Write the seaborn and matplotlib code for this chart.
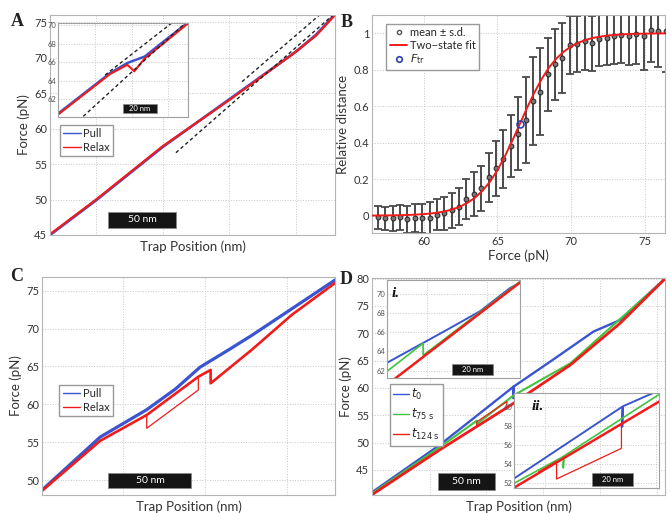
import numpy as np
import pandas as pd
import matplotlib
matplotlib.use("Agg")
import matplotlib.pyplot as plt
import matplotlib.transforms as mtransforms
from matplotlib.patches import Rectangle
from matplotlib.lines import Line2D
import seaborn as sns

# ==========================================
# DATA
# ==========================================

# --- A: pull / relax, trap position (nm) vs force (pN)
a_pull_x = [0, 34, 83, 132, 181, 196, 210]
a_pull_y = [45.0, 49.9, 57.4, 64.1, 70.8, 73.2, 76.1]
a_relax_x = [0, 34, 83, 132, 181, 196, 210]
a_relax_y = [45.1, 50.0, 57.5, 64.0, 70.8, 73.1, 76.0]
a_fold_x, a_fold_y = [141.5, 200.4], [66.6, 76.3]
a_unfold_x, a_unfold_y = [92.8, 208.5], [56.6, 76.0]

# A inset (zoom on the transition)
ai_pull_x = [0, 15, 30, 40, 50, 60, 75]
ai_pull_y = [60.4, 62.6, 64.8, 65.9, 66.6, 68.1, 70.3]
ai_relax_x = [0, 15, 30, 40, 44, 50, 60, 75]
ai_relax_y = [60.3, 62.5, 64.7, 65.7, 65.0, 66.4, 67.9, 70.2]
ai_fold_x, ai_fold_y = [27.2, 66.4], [64.6, 70.35]
ai_unfold_x, ai_unfold_y = [14.7, 74.1], [60.14, 70.35]

# --- B: relative distance vs force
b_force = [56.9, 57.4, 57.9, 58.4, 58.9, 59.4, 59.9, 60.4, 60.9, 61.4,
           61.9, 62.4, 62.9, 63.4, 63.9, 64.4, 64.9, 65.4, 65.9, 66.4,
           66.9, 67.4, 67.9, 68.4, 68.9, 69.4, 69.9, 70.4, 70.9, 71.4,
           71.9, 72.4, 72.9, 73.4, 73.9, 74.4, 74.9, 75.4, 75.9, 76.4]
b_mean = [-0.01, -0.015, -0.015, -0.01, -0.02, -0.015, -0.015, -0.015, 0.005, 0.013,
          0.03, 0.05, 0.09, 0.12, 0.15, 0.21, 0.26, 0.31, 0.38, 0.45,
          0.525, 0.63, 0.68, 0.775, 0.83, 0.865, 0.935, 0.94, 0.955, 0.945,
          0.97, 0.975, 0.985, 0.99, 0.985, 0.995, 0.985, 1.02, 1.015, 1.01]
b_sd = [0.062, 0.065, 0.068, 0.068, 0.075, 0.077, 0.08, 0.088, 0.085, 0.09,
        0.095, 0.1, 0.11, 0.12, 0.125, 0.135, 0.15, 0.16, 0.17, 0.2,
        0.235, 0.24, 0.24, 0.2, 0.195, 0.19, 0.16, 0.155, 0.155, 0.15,
        0.15, 0.15, 0.155, 0.155, 0.16, 0.165, 0.185, 0.18, 0.2, 0.22]
b_fit_force = [56.5, 57, 57.5, 58, 58.5, 59, 59.5, 60, 60.5, 61, 61.5, 62, 62.5,
               63, 63.5, 64, 64.5, 65, 65.5, 66, 66.5, 67, 67.5, 68, 68.5, 69,
               69.5, 70, 70.5, 71, 71.5, 72, 72.5, 73, 73.5, 74, 74.5, 75, 75.5,
               76, 76.5]
b_fit = [0.0007, 0.001, 0.0014, 0.002, 0.0028, 0.0041, 0.0059, 0.0085, 0.012,
         0.0175, 0.025, 0.036, 0.051, 0.072, 0.10, 0.138, 0.187, 0.25, 0.325,
         0.41, 0.5, 0.59, 0.675, 0.75, 0.813, 0.862, 0.90, 0.928, 0.949, 0.964,
         0.975, 0.982, 0.988, 0.991, 0.994, 0.996, 0.997, 0.998, 0.9986, 0.999,
         0.9993]
b_ftr_force, b_ftr = [66.5], [0.5]

# --- C: pull / relax with refolding steps
c_pull_x = [0, 35, 62.9, 80, 94.9, 112.9, 126, 150, 176]
c_pull_y = [48.7, 55.7, 59.3, 62.0, 64.9, 67.3, 69.1, 72.6, 76.4]
c_relax_x = [0, 35, 62.9, 93.9, 101.3, 101.3, 126, 150, 176]
c_relax_y = [48.6, 55.2, 58.6, 63.65, 64.54, 62.78, 67.2, 71.8, 76.0]
c_step_x = [62.9, 62.9, 93.9, 93.9]
c_step_y = [58.6, 56.85, 61.9, 63.65]

# --- D: three pulls at t0, t75s, t124s
d_t0_x = [0, 59, 122.6, 122.6, 122.9, 154.5, 192, 215, 254]
d_t0_y = [40.9, 49.6, 60.2, 58.1, 60.25, 64.8, 70.3, 72.4, 80.0]
d_t75_x = [0, 59, 90.9, 90.9, 122.6, 172, 254]
d_t75_y = [40.7, 49.2, 54.0, 53.4, 58.6, 64.5, 79.9]
d_t124_x = [0, 59, 120, 172, 215, 254]
d_t124_y = [40.45, 48.7, 56.8, 64.2, 71.8, 79.95]
d_t124_step_x = [90.9, 90.9, 116.9, 116.9]
d_t124_step_y = [52.9, 53.8, 57.5, 56.4]

# D inset i
di_t0_x = [0, 29.3, 45.5, 60, 65]
di_t0_y = [62.8, 66.25, 68.2, 70.6, 71.2]
di_t75_x = [0, 17.8, 17.8, 65]
di_t75_y = [61.9, 64.86, 63.6, 71.3]
di_t124_x = [0, 65]
di_t124_y = [60.5, 71.2]

# D inset ii
dii_t0_x = [0, 52.9, 52.9, 53.3, 65.5, 71]
dii_t0_y = [52.5, 60.0, 57.9, 60.05, 61.2, 61.7]
dii_t75_x = [0, 24.1, 24.1, 24.4, 71]
dii_t75_y = [52.0, 54.8, 53.6, 54.85, 61.3]
dii_t124_x = [0, 71]
dii_t124_y = [51.54, 60.55]
dii_step_x = [12, 20.8, 20.8, 52.5, 52.5]
dii_step_y = [53.2, 54.3, 52.45, 55.65, 58.2]

# ==========================================
# STYLE
# ==========================================
sns.set_theme(style="whitegrid", rc={
    "grid.linestyle": ":", "grid.color": "#c8c8c8", "grid.linewidth": 0.7,
    "axes.edgecolor": "#b5b5b5", "axes.linewidth": 0.8,
    "xtick.major.size": 0, "ytick.major.size": 0,
    "xtick.color": "#333333", "ytick.color": "#333333",
    "axes.labelcolor": "#333333",
})
plt.rcParams["font.family"] = ["Lato", "DejaVu Sans"]

BLUE = "#3a55cf"
RED = "#f01c1c"
GREEN = "#3fc43f"

W, H = 671, 513
fig = plt.figure(figsize=(W / 100, H / 100), dpi=100)


def px_axes(l, t, r, b):
    return fig.add_axes([l / W, 1 - b / H, (r - l) / W, (b - t) / H])


def line(ax, x, y, color, lw=1.2, **kw):
    sns.lineplot(x=x, y=y, ax=ax, color=color, lw=lw, estimator=None,
                 sort=False, legend=False, **kw)


def scale_bar(ax, x0, width, y0, y1, label, fs):
    trans = mtransforms.blended_transform_factory(ax.transData, ax.transAxes)
    ax.add_patch(Rectangle((x0, y0), width, y1 - y0, transform=trans,
                           facecolor="#151515", edgecolor="#888888", lw=0.5, zorder=6))
    ax.text(x0 + width / 2, (y0 + y1) / 2, label, transform=trans, color="white",
            ha="center", va="center", fontsize=fs, zorder=7)


def style_inset(ax, xlim, ylim, xticks, yticks):
    ax.set_xlim(*xlim)
    ax.set_ylim(*ylim)
    ax.set_xticks(xticks)
    ax.set_xticklabels([])
    ax.set_yticks(yticks)
    ax.tick_params(axis="y", labelsize=5.5, pad=1, colors="#555555")
    ax.set_xlabel("")
    ax.set_ylabel("")
    for s in ax.spines.values():
        s.set_color("#a0a0a0")


def panel_letter(x, y, s):
    fig.text(x / W, 1 - y / H, s, fontsize=13, fontweight="bold",
             family="Liberation Serif", color="#222222", va="baseline")


legend_kw = dict(loc="upper left", frameon=True, fancybox=False, edgecolor="#999999",
                 handletextpad=0.2, borderpad=0.3, framealpha=1)

# ==========================================
# A
# ==========================================
axA = px_axes(50, 15, 335, 235)
line(axA, a_pull_x, a_pull_y, BLUE, lw=2.0)
line(axA, a_relax_x, a_relax_y, RED, lw=1.6)
axA.plot(a_fold_x, a_fold_y, ls=(0, (2.5, 2)), color="#222222", lw=1)
axA.plot(a_unfold_x, a_unfold_y, ls=(0, (2.5, 2)), color="#222222", lw=1)
axA.set_xlim(0, 210)
axA.set_ylim(45, 76)
axA.set_xticks([34, 83, 132, 181])
axA.set_xticklabels([])
axA.set_yticks([45, 50, 55, 60, 65, 70, 75])
axA.tick_params(labelsize=8, pad=2)
axA.set_xlabel("Trap Position (nm)", fontsize=9.5, labelpad=2)
axA.set_ylabel("Force (pN)", fontsize=9.5, labelpad=3)
scale_bar(axA, 42.7, 50, 0.032, 0.105, "50 nm", 7.5)
axA.legend(handles=[Line2D([], [], color=BLUE, lw=1, label="Pull"),
                    Line2D([], [], color=RED, lw=1, label="Relax")],
           bbox_to_anchor=(0.015, 0.525), fontsize=8, handlelength=1.6,
           labelspacing=0.2, **legend_kw)

axAi = px_axes(57.7, 22.7, 188.3, 116.7)
axAi.set_facecolor("white")
line(axAi, ai_pull_x, ai_pull_y, BLUE, lw=1.8)
line(axAi, ai_relax_x, ai_relax_y, RED, lw=1.5)
axAi.plot(ai_fold_x, ai_fold_y, ls=(0, (2.5, 2)), color="#222222", lw=1)
axAi.plot(ai_unfold_x, ai_unfold_y, ls=(0, (2.5, 2)), color="#222222", lw=1)
style_inset(axAi, (0, 75), (60.1, 70.25), [21.4, 42.5, 63.5], [62, 64, 66, 68, 70])
scale_bar(axAi, 37.3, 20, 0.036, 0.135, "20 nm", 5.5)

# ==========================================
# B
# ==========================================
axB = px_axes(372, 15, 665, 233)
axB.errorbar(b_force, b_mean, yerr=b_sd, fmt="none", ecolor="#4a4a4a",
             elinewidth=1.4, capsize=3, capthick=1.3, zorder=2)
sns.scatterplot(x=b_force, y=b_mean, ax=axB, marker="o", s=12,
                facecolor="#777777", edgecolor="#222222", linewidth=0.7, zorder=3)
line(axB, b_fit_force, b_fit, RED, lw=1.4, zorder=4)
axB.plot(b_ftr_force, b_ftr, "o", mfc="none", mec="#2a3fb0", mew=1.2, ms=5, zorder=5)
axB.set_xlim(56.5, 76.35)
axB.set_ylim(-0.095, 1.1)
axB.set_xticks([60, 65, 70, 75])
axB.set_yticks([0, 0.2, 0.4, 0.6, 0.8, 1])
axB.set_yticklabels(["0", "0.2", "0.4", "0.6", "0.8", "1"])
axB.tick_params(labelsize=8, pad=2)
axB.set_xlabel("Force (pN)", fontsize=9.5, labelpad=2)
axB.set_ylabel("Relative distance", fontsize=9.5, labelpad=3)
axB.legend(handles=[
    Line2D([], [], ls="none", marker="o", ms=3, mfc="none", mec="#555555", label="mean \u00b1 s.d."),
    Line2D([], [], color=RED, lw=1.4, label="Two\u2212state fit"),
    Line2D([], [], ls="none", marker="o", ms=4, mfc="none", mec="#2a3fb0", mew=1.2,
           label=r"$F_{\rm tr}$")],
    bbox_to_anchor=(0.03, 0.985), fontsize=8, handlelength=1.6, labelspacing=0.15,
    **legend_kw)

# ==========================================
# C
# ==========================================
axC = px_axes(42, 277, 335, 495)
line(axC, c_pull_x, c_pull_y, BLUE, lw=2.3)
line(axC, c_relax_x, c_relax_y, RED, lw=1.9)
line(axC, c_step_x, c_step_y, RED, lw=0.9)
axC.set_xlim(0, 176)
axC.set_ylim(48.05, 76.8)
axC.set_xticks([48.7, 98, 147.3])
axC.set_xticklabels([])
axC.set_yticks([50, 55, 60, 65, 70, 75])
axC.tick_params(labelsize=8, pad=2)
axC.set_xlabel("Trap Position (nm)", fontsize=9.5, labelpad=2)
axC.set_ylabel("Force (pN)", fontsize=9.5, labelpad=3)
scale_bar(axC, 39.8, 50, 0.031, 0.1, "50 nm", 7.5)
axC.legend(handles=[Line2D([], [], color=BLUE, lw=1, label="Pull"),
                    Line2D([], [], color=RED, lw=1, label="Relax")],
           bbox_to_anchor=(0.04, 0.53), fontsize=8, handlelength=1.6,
           labelspacing=0.2, **legend_kw)

# ==========================================
# D
# ==========================================
axD = px_axes(372, 278, 665, 495)
line(axD, d_t0_x, d_t0_y, BLUE, lw=1.7)
line(axD, d_t75_x, d_t75_y, GREEN, lw=1.5)
line(axD, d_t124_x, d_t124_y, RED, lw=2.0)
line(axD, d_t124_step_x, d_t124_step_y, RED, lw=0.9)
axD.set_xlim(0, 254)
axD.set_ylim(40.4, 80.1)
axD.set_xticks([50, 99, 148, 198, 247])
axD.set_xticklabels([])
axD.set_yticks([45, 50, 55, 60, 65, 70, 75, 80])
axD.tick_params(labelsize=8, pad=2)
axD.set_xlabel("Trap Position (nm)", fontsize=9.5, labelpad=2)
axD.set_ylabel("Force (pN)", fontsize=9.5, labelpad=3)
scale_bar(axD, 56.8, 50, 0.023, 0.1, "50 nm", 7.5)
axD.legend(handles=[Line2D([], [], color=BLUE, lw=1, label=r"$t_0$"),
                    Line2D([], [], color=GREEN, lw=1, label=r"$t_{75\ \mathrm{s}}$"),
                    Line2D([], [], color=RED, lw=1, label=r"$t_{124\ \mathrm{s}}$")],
           bbox_to_anchor=(0.04, 0.54), fontsize=8.5, handlelength=1.3,
           labelspacing=0.4, **legend_kw)

axDi = px_axes(386.7, 280, 520, 378.3)
axDi.set_facecolor("white")
line(axDi, di_t0_x, di_t0_y, BLUE, lw=1.4)
line(axDi, di_t75_x, di_t75_y, GREEN, lw=1.2)
line(axDi, di_t124_x, di_t124_y, RED, lw=1.8)
style_inset(axDi, (0, 65), (61.2, 71.46), [19.5, 48.8], [62, 64, 66, 68, 70])
scale_bar(axDi, 32, 20, 0.034, 0.145, "20 nm", 5.5)
axDi.text(0.04, 0.93, "i.", transform=axDi.transAxes, fontsize=11, fontweight="bold",
          fontstyle="italic", family="Liberation Serif", va="top", color="#111111")

axDii = px_axes(514, 393.3, 659.3, 488.3)
axDii.set_facecolor("white")
line(axDii, dii_t0_x, dii_t0_y, BLUE, lw=1.4)
line(axDii, dii_t75_x, dii_t75_y, GREEN, lw=1.2)
line(axDii, dii_t124_x, dii_t124_y, RED, lw=1.8)
line(axDii, dii_step_x, dii_step_y, RED, lw=0.9)
style_inset(axDii, (0, 71), (51.48, 61.4), [15.1, 42, 69.6], [52, 54, 56, 58, 60])
scale_bar(axDii, 38.2, 20, 0.027, 0.158, "20 nm", 5.5)
axDii.text(0.12, 0.93, "ii.", transform=axDii.transAxes, fontsize=11, fontweight="bold",
           fontstyle="italic", family="Liberation Serif", va="top", color="#111111")

panel_letter(11, 26, "A")
panel_letter(341, 27, "B")
panel_letter(10, 281, "C")
panel_letter(340, 284, "D")

fig.savefig("out.png", dpi=100)
